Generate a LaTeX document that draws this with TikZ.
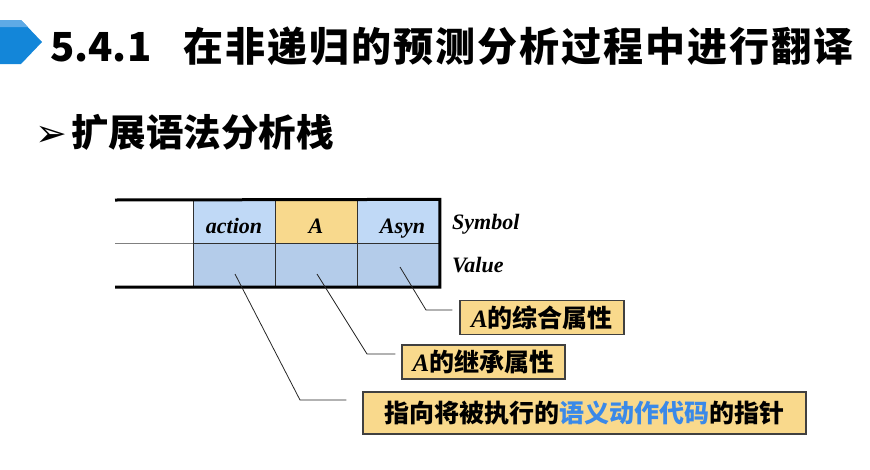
\documentclass[tikz,border=0pt]{standalone}
\usepackage{fontspec}
\setmainfont{Liberation Serif}
\newfontfamily\cjk{Noto Sans CJK SC}
\newfontfamily\cjkhead{Noto Sans CJK SC}[LetterSpace=5]
\newfontfamily\dingfont{DejaVu Sans}
\usetikzlibrary{positioning,calc}
\definecolor{HeadBlue}{HTML}{1386D9}
\definecolor{HeadLight}{HTML}{5EAAE6}
\definecolor{SymBlue}{HTML}{C0D9F6}
\definecolor{SymYellow}{HTML}{F8D98D}
\definecolor{ValBlue}{HTML}{B4CCEA}
\definecolor{NoteYellow}{HTML}{F9D98C}
\definecolor{NoteLine}{HTML}{404040}
\definecolor{CellLine}{HTML}{303030}
\definecolor{CodeBlue}{HTML}{3A89E8}

\begin{document}
\begin{tikzpicture}[x=1pt,y=-1pt,
cell/.style={draw=CellLine,line width=0.8pt,minimum width=82pt,minimum height=43.5pt,inner sep=0pt,text height=24pt,text depth=1pt,font=\bfseries\itshape\fontsize{22}{22}\selectfont},
rowtag/.style={anchor=west,inner sep=0pt,font=\bfseries\itshape\fontsize{22}{22}\selectfont},
note/.style={draw=NoteLine,line width=1.2pt,fill=NoteYellow,inner sep=0pt,minimum height=34pt,font=\cjk\bfseries\fontsize{25}{25}\selectfont},
lead/.style={line width=0.8pt,black!85},
frame/.style={line width=3pt,line join=miter}
]
\useasboundingbox (0,0) rectangle (870,469);
\fill[HeadBlue] (0,20) -- (21,20) -- (42,42) -- (21,64) -- (0,64) -- cycle;
\fill[HeadLight] (0,20) -- (21,20) -- (28,27) -- (0,27) -- cycle;
\node[anchor=west,inner sep=0pt,font=\cjk\bfseries\fontsize{40}{40}\selectfont] (title) at (50,46) {5.4.1\hspace{32pt}{\cjkhead 在非递归的预测分析过程中进行翻译}};
\node[anchor=west,inner sep=0pt] (sub) at (35,132) {{\dingfont\fontsize{38}{38}\selectfont ➢}\hspace{4pt}{\cjk\bfseries\fontsize{37.5}{37.5}\selectfont 扩展语法分析栈}};

\node[cell,fill=SymBlue] (s1) at (234,221.5) {action};
\node[cell,fill=SymYellow] (s2) at (316,221.5) {A};
\node[cell,fill=SymBlue] (s3) at (398.5,221.5) {\hspace{8pt}Asyn};
\node[cell,fill=ValBlue] (v1) at (234,265) {};
\node[cell,fill=ValBlue] (v2) at (316,265) {};
\node[cell,fill=ValBlue] (v3) at (398.5,265) {};
\coordinate (rim) at (115,200);
\draw[line width=0.8pt,gray] (rim |- s1.south west) -- (s1.south west);
\draw[frame] (rim) -- (s3.north east) -- (v3.south east) -- (rim |- v3.south east);
\node[rowtag] (sym) at (452,224) {Symbol};
\node[rowtag] (val) at (452,265) {Value};

\node[note,minimum width=164pt] (syn) at (542,317.5) {{\rmfamily\bfseries\itshape A}的综合属性};
\node[note,minimum width=163pt] (inh) at (483.5,362) {{\rmfamily\bfseries\itshape A}的继承属性};
\node[note,minimum width=443pt,minimum height=42pt] (ptr) at (584.5,413) {指向将被执行的\textcolor{CodeBlue}{语义动作代码}的指针};

\coordinate (k3) at (426,310);
\coordinate (k2) at (367,354);
\coordinate (k1) at (300,400);
\draw[lead,shorten >=7pt] ([shift={(1.5,2)}]v3.center) -- (k3) -- (k3 -| syn.west);
\draw[lead,shorten >=6pt] ([shift={(1,9)}]v2.center) -- (k2) -- (k2 -| inh.west);
\draw[lead,shorten >=16pt] ([shift={(1,9)}]v1.center) -- (k1) -- (k1 -| ptr.west);
\end{tikzpicture}
\end{document}
